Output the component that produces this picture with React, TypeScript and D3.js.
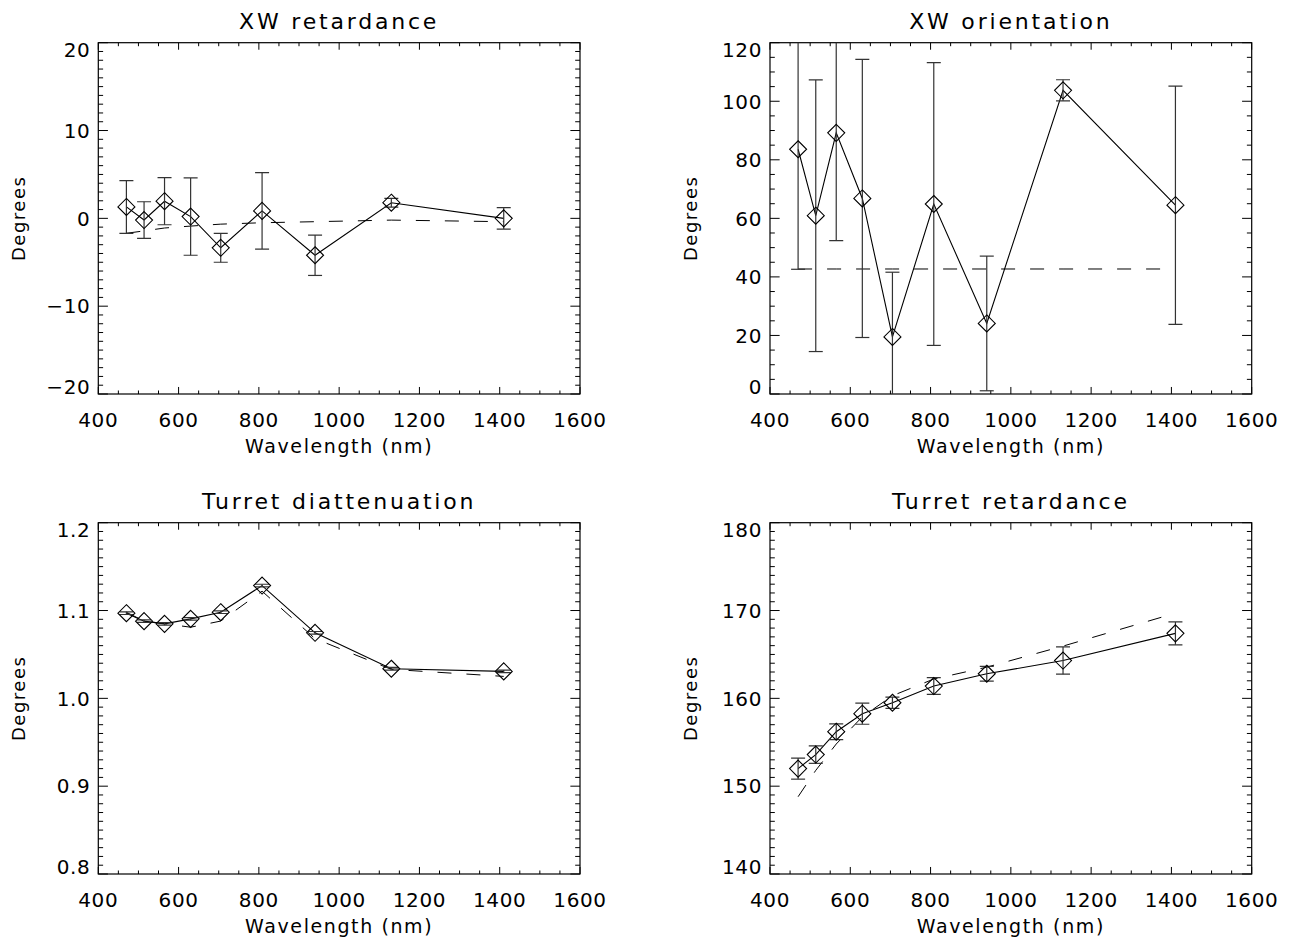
import React from "react";
import * as d3 from "d3";

// ---------- data ----------
const wavelength = [470, 514, 565, 630, 705, 808, 940, 1130, 1410];

const xwRetardance = [1.3, -0.19, 1.95, 0.2, -3.35, 0.85, -4.2, 1.78, 0.0];
const xwRetardanceErr = [3.0, 2.08, 2.68, 4.4, 1.65, 4.35, 2.3, 0.5, 1.22];
const xwRetardanceModel = [-1.7, -1.43, -1.1, -0.88, -0.66, -0.5, -0.38, -0.2, -0.38];

const xwOrientation = [83.6, 60.9, 89.2, 66.8, 19.5, 64.9, 24.1, 103.75, 64.5];
const xwOrientationErr = [41, 46.4, 36.8, 47.5, 22.1, 48.3, 23.0, 3.6, 40.7];
const xwOrientationModel = [42.7, 42.7, 42.7, 42.7, 42.7, 42.7, 42.7, 42.7, 42.7];

const turretDiattenuation = [1.097, 1.0879, 1.0848, 1.0905, 1.0981, 1.1284, 1.0746, 1.0337, 1.0307];
const turretDiattenuationErr = [0.0015, 0.0015, 0.0015, 0.0015, 0.0015, 0.0015, 0.0015, 0.0015, 0.0015];
const turretDiattenuationModel = [1.098, 1.088, 1.085, 1.081, 1.088, 1.122, 1.068, 1.033, 1.025];

const turretRetardance = [152.0, 153.6, 156.2, 158.25, 159.5, 161.4, 162.8, 164.3, 167.4];
const turretRetardanceErr = [1.2, 1.0, 0.9, 1.2, 0.65, 0.95, 0.85, 1.55, 1.3];
const turretRetardanceModel = [148.8, 151.8, 154.8, 157.9, 160.3, 162.2, 163.55, 165.95, 169.7];

const xTicks = [400, 600, 800, 1000, 1200, 1400, 1600];

const yTicksXwRet = [-20, -10, 0, 10, 20];
const yTicksXwOri = [0, 20, 40, 60, 80, 100, 120];
const yTicksDiat = [0.8, 0.9, 1.0, 1.1, 1.2];
const yTicksTurRet = [140, 150, 160, 170, 180];

const yTickLabelsXwRet = ["\u221220", "\u221210", "0", "10", "20"];
const yTickLabelsXwOri = ["0", "20", "40", "60", "80", "100", "120"];
const yTickLabelsDiat = ["0.8", "0.9", "1.0", "1.1", "1.2"];
const yTickLabelsTurRet = ["140", "150", "160", "170", "180"];

// ---------- layout ----------
const W = 1316;
const H = 946;
const FONT = "'DejaVu Sans', sans-serif";

type PanelProps = {
  x0: number;
  x1: number;
  y0: number;
  y1: number;
  title: string;
  values: number[];
  errs: number[];
  model: number[];
  yDomain: [number, number];
  yTicks: number[];
  yTickLabels: string[];
  yMinorStep: number;
  id: string;
};

function Panel(p: PanelProps) {
  const x = d3.scaleLinear().domain([400, 1600]).range([p.x0, p.x1]);
  const y = d3.scaleLinear().domain(p.yDomain).range([p.y1, p.y0]);
  const ph = p.y1 - p.y0;
  const pw = p.x1 - p.x0;
  const xMaj = 0.02 * ph;
  const yMaj = 0.02 * pw;

  const xMinor = d3.range(400, 1600.001, 50);
  const nMinorY = Math.round((p.yDomain[1] - p.yDomain[0]) / p.yMinorStep);
  const yMinor = d3.range(0, nMinorY + 1).map((i) => p.yDomain[0] + i * p.yMinorStep);

  const line = d3
    .line<number>()
    .x((_, i) => x(wavelength[i]))
    .y((v) => y(v));

  const dS = 8.5;
  const cap = 7;
  const nY = p.yTicks.length;

  return (
    <g>
      <defs>
        <clipPath id={p.id}>
          <rect x={p.x0} y={p.y0} width={pw} height={ph} />
        </clipPath>
      </defs>
      {/* title */}
      <text
        x={(p.x0 + p.x1) / 2}
        y={p.y0 - 13.5}
        textAnchor="middle"
        fontFamily={FONT}
        fontSize={22}
        letterSpacing={2.8}
      >
        {p.title}
      </text>
      {/* ticks */}
      <g stroke="#000" strokeWidth={1}>
        {xMinor.map((t, i) => {
          const isMaj = xTicks.includes(t);
          const len = isMaj ? xMaj : xMaj / 2;
          return (
            <g key={"xt" + i}>
              <line x1={x(t)} x2={x(t)} y1={p.y1} y2={p.y1 - len} />
              <line x1={x(t)} x2={x(t)} y1={p.y0} y2={p.y0 + len} />
            </g>
          );
        })}
        {yMinor.map((t, i) => {
          const isMaj = p.yTicks.some((m) => Math.abs(m - t) < 1e-9);
          const len = isMaj ? yMaj : yMaj / 2;
          return (
            <g key={"yt" + i}>
              <line x1={p.x0} x2={p.x0 + len} y1={y(t)} y2={y(t)} />
              <line x1={p.x1} x2={p.x1 - len} y1={y(t)} y2={y(t)} />
            </g>
          );
        })}
      </g>
      <rect x={p.x0} y={p.y0} width={pw} height={ph} fill="none" stroke="#000" strokeWidth={1.2} />
      {/* x tick labels */}
      {xTicks.map((t) => (
        <text
          key={"xl" + t}
          x={x(t)}
          y={p.y1 + 32.5}
          textAnchor="middle"
          fontFamily={FONT}
          fontSize={20}
          letterSpacing={0.6}
        >
          {t}
        </text>
      ))}
      {/* y tick labels (end labels nudged inward as in the original) */}
      {p.yTicks.map((t, i) => {
        const shift = i === 0 ? -7 : i === nY - 1 ? 7 : 0;
        return (
          <text
            key={"yl" + i}
            x={p.x0 - 8}
            y={y(t) + 7.3 + shift}
            textAnchor="end"
            fontFamily={FONT}
            fontSize={20}
            letterSpacing={0.6}
          >
            {p.yTickLabels[i]}
          </text>
        );
      })}
      {/* axis titles */}
      <text
        x={(p.x0 + p.x1) / 2}
        y={p.y1 + 59}
        textAnchor="middle"
        fontFamily={FONT}
        fontSize={19}
        letterSpacing={1.6}
      >
        Wavelength (nm)
      </text>
      <text
        transform={`translate(${p.x0 - 73.3},${(p.y0 + p.y1) / 2}) rotate(-90)`}
        textAnchor="middle"
        fontFamily={FONT}
        fontSize={18}
        letterSpacing={1.5}
      >
        Degrees
      </text>
      {/* data */}
      <g clipPath={`url(#${p.id})`}>
        <path d={line(p.model) || ""} fill="none" stroke="#000" strokeWidth={1} strokeDasharray="14 15" />
        <path d={line(p.values) || ""} fill="none" stroke="#000" strokeWidth={1.1} />
        {p.values.map((v, i) => {
          const cx = x(wavelength[i]);
          const top = y(v + p.errs[i]);
          const bot = y(v - p.errs[i]);
          return (
            <g key={"e" + i} stroke="#333" strokeWidth={1.2}>
              <line x1={cx} x2={cx} y1={top} y2={bot} />
              <line x1={cx - cap} x2={cx + cap} y1={top} y2={top} />
              <line x1={cx - cap} x2={cx + cap} y1={bot} y2={bot} />
            </g>
          );
        })}
        {p.values.map((v, i) => {
          const cx = x(wavelength[i]);
          const cy = y(v);
          return (
            <path
              key={"d" + i}
              d={`M${cx},${cy - dS}L${cx + dS},${cy}L${cx},${cy + dS}L${cx - dS},${cy}Z`}
              fill="none"
              stroke="#000"
              strokeWidth={1.1}
            />
          );
        })}
      </g>
    </g>
  );
}

export default function App() {
  const L = [98.3, 580];
  const R = [770, 1251.7];
  const T = [42.7, 394];
  const B = [522.7, 874];
  return (
    <svg
      width={W}
      height={H}
      style={{ position: "absolute", left: 0, top: 0, background: "#fff" }}
    >
      <rect x={0} y={0} width={W} height={H} fill="#fff" />
      <Panel
        id="c1"
        x0={L[0]}
        x1={L[1]}
        y0={T[0]}
        y1={T[1]}
        title="XW retardance"
        values={xwRetardance}
        errs={xwRetardanceErr}
        model={xwRetardanceModel}
        yDomain={[-20, 20]}
        yTicks={yTicksXwRet}
        yTickLabels={yTickLabelsXwRet}
        yMinorStep={1}
      />
      <Panel
        id="c2"
        x0={R[0]}
        x1={R[1]}
        y0={T[0]}
        y1={T[1]}
        title="XW orientation"
        values={xwOrientation}
        errs={xwOrientationErr}
        model={xwOrientationModel}
        yDomain={[0, 120]}
        yTicks={yTicksXwOri}
        yTickLabels={yTickLabelsXwOri}
        yMinorStep={5}
      />
      <Panel
        id="c3"
        x0={L[0]}
        x1={L[1]}
        y0={B[0]}
        y1={B[1]}
        title="Turret diattenuation"
        values={turretDiattenuation}
        errs={turretDiattenuationErr}
        model={turretDiattenuationModel}
        yDomain={[0.8, 1.2]}
        yTicks={yTicksDiat}
        yTickLabels={yTickLabelsDiat}
        yMinorStep={0.01}
      />
      <Panel
        id="c4"
        x0={R[0]}
        x1={R[1]}
        y0={B[0]}
        y1={B[1]}
        title="Turret retardance"
        values={turretRetardance}
        errs={turretRetardanceErr}
        model={turretRetardanceModel}
        yDomain={[140, 180]}
        yTicks={yTicksTurRet}
        yTickLabels={yTickLabelsTurRet}
        yMinorStep={1}
      />
    </svg>
  );
}
